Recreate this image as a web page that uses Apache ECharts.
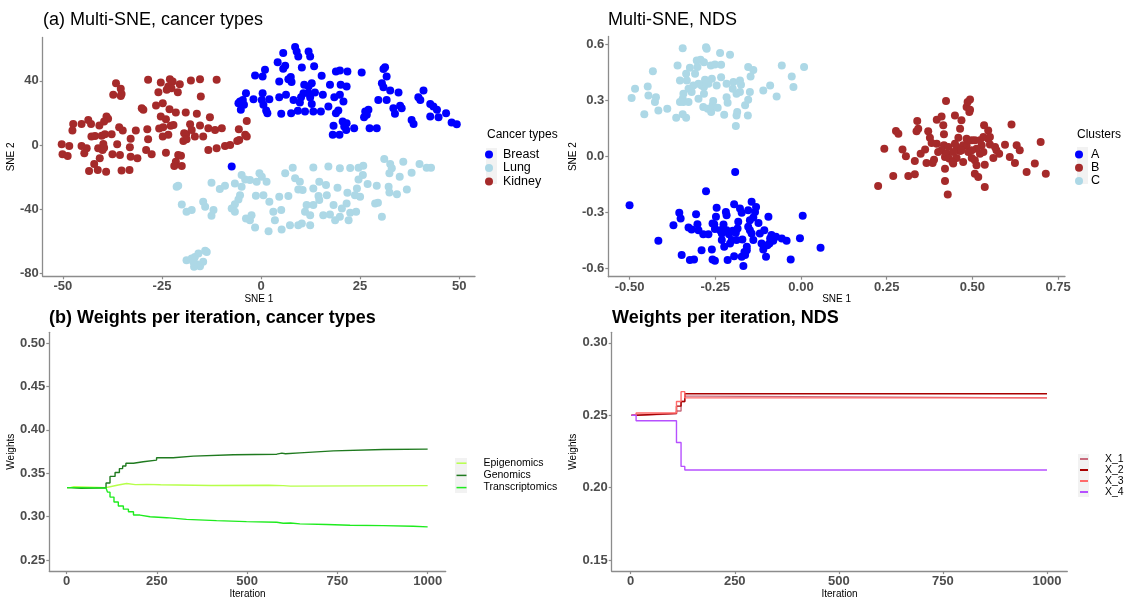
<!DOCTYPE html>
<html><head><meta charset="utf-8">
<script src="https://cdn.jsdelivr.net/npm/echarts@6/dist/echarts.min.js"></script>
<style>html,body{margin:0;padding:0;background:#fff}#c{width:1124px;height:600px}</style>
</head><body><div id="c"></div>
<script>
// ---------- Panel (a): Multi-SNE, cancer types ----------
const cancerTypes = ['Breast', 'Lung', 'Kidney'];
const breastPts = [[8.6,61.0],[9.0,58.3],[9.4,55.2],[12.0,58.3],[12.4,55.2],[5.6,57.3],[4.2,51.5],[6.1,49.4],[5.6,47.5],[10.3,48.3],[13.4,49.0],[-1.5,43.3],[0.4,42.7],[1.0,46.9],[4.6,39.6],[6.9,41.0],[7.7,39.2],[7.5,42.3],[10.9,37.5],[12.0,36.5],[12.8,38.5],[13.6,32.7],[15.3,43.1],[17.4,37.5],[18.9,45.8],[19.9,46.5],[20.1,37.5],[21.6,36.5],[21.8,45.8],[25.4,45.2],[30.9,47.3],[31.3,48.5],[31.7,42.7],[30.5,38.5],[30.9,36.0],[32.6,34.0],[34.7,32.7],[39.7,29.8],[40.2,28.1],[41.0,34.0],[42.7,25.6],[43.5,24.0],[44.4,21.9],[44.8,17.3],[46.7,19.8],[48.1,14.0],[49.4,12.9],[38.0,15.6],[38.5,13.1],[42.7,17.7],[33.4,22.9],[33.8,19.4],[35.5,22.9],[35.1,24.4],[29.6,28.1],[31.7,28.1],[26.3,20.8],[26.7,18.8],[27.1,21.9],[26.0,17.3],[27.4,10.4],[29.2,10.4],[23.5,10.4],[21.6,13.5],[21.5,9.4],[21.0,11.5],[20.6,14.6],[18.3,11.9],[18.1,6.3],[19.8,6.3],[18.9,19.8],[19.5,21.5],[18.5,29.8],[17.0,24.0],[15.6,31.3],[12.8,25.6],[12.4,29.6],[9.8,26.5],[10.1,29.8],[11.1,20.8],[9.3,21.3],[7.6,19.8],[5.1,19.4],[6.3,31.3],[4.6,29.8],[2.1,28.5],[0.4,32.3],[0.2,28.1],[0.6,25.0],[1.3,21.5],[1.6,19.8],[-1.9,28.5],[-3.8,32.3],[-5.3,27.1],[-4.6,28.1],[-5.7,26.0],[-5.1,21.9],[-4.3,25.0],[8.2,28.1],[12.0,32.3],[10.7,32.3],[13.2,20.8],[15.1,20.8],[19.9,31.3],[20.8,27.1],[-7.4,-13.5]];
const lungPts = [[-21.3,-26.0],[-20.9,-25.4],[-20.0,-37.1],[-18.8,-41.7],[-17.5,-40.6],[-14.6,-35.4],[-14.1,-38.5],[-12.5,-23.5],[-12.0,-40.6],[-12.5,-44.2],[-10.4,-27.5],[-9.1,-25.4],[-18.8,-71.9],[-17.5,-70.8],[-16.7,-69.8],[-15.8,-67.7],[-14.1,-66.0],[-14.6,-72.9],[-16.2,-74.4],[-15.4,-75.6],[-16.9,-76.0],[-17.1,-72.9],[-13.7,-66.7],[31.1,-8.8],[32.6,-11.9],[33.0,-14.6],[32.4,-17.7],[35.9,-10.4],[38.0,-17.3],[40.0,-11.9],[41.8,-14.2],[42.9,-14.2],[35.0,-19.8],[36.8,-27.7],[34.3,-30.8],[32.2,-26.0],[32.4,-29.6],[29.2,-25.4],[26.9,-24.4],[25.7,-18.8],[24.6,-21.5],[24.2,-27.1],[24.6,-14.2],[22.5,-14.4],[19.9,-14.6],[17.0,-13.5],[13.2,-14.0],[8.0,-14.2],[6.1,-17.7],[-0.4,-17.7],[0.2,-19.8],[1.4,-22.9],[-1.1,-22.9],[-2.8,-21.9],[-4.9,-18.8],[-6.6,-24.0],[-4.0,-21.5],[-4.9,-26.0],[-5.3,-31.3],[-5.7,-34.0],[-6.6,-36.9],[-7.4,-39.6],[-6.6,-41.7],[-1.3,-31.7],[0.6,-31.3],[2.1,-35.4],[4.6,-32.3],[6.9,-31.9],[8.6,-20.8],[9.8,-22.9],[9.4,-27.7],[10.5,-28.1],[13.2,-27.1],[14.7,-22.9],[16.4,-25.0],[16.6,-31.3],[14.7,-34.4],[14.5,-31.9],[13.2,-37.5],[11.5,-37.5],[11.1,-41.7],[12.4,-43.8],[15.7,-43.8],[17.4,-43.3],[18.3,-37.5],[20.4,-39.6],[21.6,-36.5],[21.8,-29.8],[19.3,-26.7],[23.7,-31.3],[22.5,-42.3],[24.0,-41.7],[25.0,-32.3],[28.8,-36.5],[29.5,-36.0],[30.5,-44.8],[19.9,-44.8],[18.7,-46.9],[22.1,-46.9],[12.4,-50.0],[10.3,-49.0],[9.4,-50.0],[7.3,-50.0],[5.2,-52.7],[1.9,-53.8],[-1.5,-51.5],[-2.8,-46.9],[-3.8,-45.8],[-2.4,-43.8],[3.1,-41.7],[5.1,-40.6],[3.5,-46.9],[25.8,-12.9]];
const kidneyPts = [[-28.5,40.6],[-25.3,39.0],[-23.0,41.0],[-22.3,39.6],[-23.4,36.5],[-22.6,35.4],[-23.8,34.4],[-25.9,32.9],[-21.0,32.9],[-20.5,37.9],[-17.7,40.2],[-15.4,41.0],[-11.2,40.6],[-36.6,38.5],[-35.4,35.0],[-35.2,31.7],[-37.3,31.3],[-35.4,30.6],[-15.2,30.2],[-30.1,22.9],[-29.7,21.9],[-26.5,24.6],[-24.8,26.0],[-23.1,22.3],[-21.5,20.2],[-19.0,20.2],[-16.2,19.4],[-12.9,17.3],[-25.3,17.7],[-24.0,16.0],[-39.0,17.7],[-38.6,16.3],[-39.6,14.6],[-43.6,15.6],[-42.9,13.1],[-45.3,13.1],[-47.4,13.1],[-47.6,9.0],[-40.8,12.1],[-35.8,11.0],[-34.9,9.0],[-31.6,9.0],[-28.7,9.8],[-25.7,10.2],[-24.7,11.0],[-22.8,11.9],[-22.1,12.5],[-17.9,12.9],[-15.4,12.1],[-13.3,10.4],[-11.6,9.4],[-9.9,10.4],[-42.8,5.2],[-41.9,5.6],[-40.2,5.8],[-39.4,6.7],[-37.7,6.7],[-32.9,3.8],[-28.5,3.5],[-24.8,5.2],[-23.4,6.3],[-18.9,6.7],[-16.7,5.2],[-14.6,5.2],[-17.5,9.4],[-19.4,7.3],[-5.6,9.8],[-3.6,15.0],[-4.0,6.3],[-3.6,5.2],[-5.5,3.1],[-50.3,0.4],[-48.4,-0.6],[-50.1,-5.8],[-48.8,-6.9],[-45.3,-0.6],[-44.0,-2.1],[-44.6,-5.2],[-41.1,-2.1],[-39.8,0.6],[-40.0,-3.1],[-39.6,-1.7],[-36.3,0.4],[-33.1,-1.5],[-29.0,-3.1],[-27.6,-5.8],[-24.0,-4.8],[-37.5,-5.8],[-35.6,-6.3],[-32.9,-7.3],[-31.2,-8.3],[-19.6,2.5],[-18.8,3.5],[-13.3,-3.1],[-11.2,-2.1],[-9.1,-0.6],[-7.8,0.0],[-6.0,2.5],[-40.7,-8.3],[-42.1,-11.9],[-20.9,-6.3],[-20.2,-6.7],[-21.5,-10.4],[-21.9,-13.1],[-20.0,-13.1],[-43.4,-16.3],[-41.2,-15.6],[-39.1,-16.7],[-35.2,-16.0],[-33.2,-15.6]];
const tlXTicks = [-50, -25, 0, 25, 50];
const tlYTicks = [-80, -40, 0, 40];

// ---------- Panel: Multi-SNE, NDS ----------
const clusterNames = ['A', 'B', 'C'];
const clusterA = [[-0.500,-0.262],[-0.416,-0.453],[-0.372,-0.369],[-0.355,-0.303],[-0.351,-0.333],[-0.348,-0.529],[-0.324,-0.556],[-0.312,-0.553],[-0.306,-0.310],[-0.302,-0.364],[-0.328,-0.381],[-0.319,-0.392],[-0.299,-0.396],[-0.285,-0.417],[-0.290,-0.503],[-0.277,-0.187],[-0.270,-0.417],[-0.260,-0.499],[-0.258,-0.553],[-0.251,-0.560],[-0.253,-0.364],[-0.251,-0.390],[-0.246,-0.276],[-0.248,-0.324],[-0.258,-0.360],[-0.236,-0.396],[-0.231,-0.449],[-0.226,-0.365],[-0.224,-0.485],[-0.219,-0.298],[-0.217,-0.316],[-0.214,-0.556],[-0.210,-0.417],[-0.202,-0.449],[-0.199,-0.399],[-0.195,-0.257],[-0.192,-0.084],[-0.195,-0.535],[-0.190,-0.410],[-0.185,-0.387],[-0.178,-0.280],[-0.173,-0.303],[-0.171,-0.446],[-0.168,-0.588],[-0.165,-0.512],[-0.163,-0.529],[-0.158,-0.485],[-0.154,-0.378],[-0.149,-0.396],[-0.144,-0.244],[-0.139,-0.328],[-0.134,-0.298],[-0.131,-0.271],[-0.124,-0.357],[-0.115,-0.467],[-0.110,-0.499],[-0.107,-0.396],[-0.102,-0.538],[-0.098,-0.476],[-0.095,-0.324],[-0.092,-0.467],[-0.090,-0.440],[-0.086,-0.422],[-0.081,-0.453],[-0.073,-0.431],[-0.056,-0.440],[-0.042,-0.453],[-0.030,-0.553],[-0.003,-0.439],[0.005,-0.319],[0.057,-0.490],[-0.173,-0.538],[-0.158,-0.503],[-0.144,-0.414],[-0.139,-0.449],[-0.188,-0.449],[-0.207,-0.467],[-0.217,-0.396],[-0.231,-0.414],[-0.149,-0.342],[-0.120,-0.414],[-0.154,-0.289],[-0.183,-0.351]];
const clusterB = [[0.225,-0.159],[0.243,0.041],[0.269,-0.105],[0.277,0.135],[0.284,0.121],[0.296,0.037],[0.306,0.000],[0.313,-0.105],[0.332,-0.096],[0.332,-0.025],[0.337,0.134],[0.339,0.189],[0.342,0.148],[0.349,0.014],[0.362,0.037],[0.366,-0.036],[0.371,0.134],[0.376,0.100],[0.381,0.071],[0.384,-0.036],[0.388,-0.018],[0.396,0.196],[0.410,0.214],[0.415,0.166],[0.417,0.118],[0.417,0.059],[0.410,0.032],[0.420,-0.066],[0.420,-0.132],[0.420,-0.004],[0.423,0.296],[0.425,0.014],[0.430,0.050],[0.432,-0.012],[0.428,-0.205],[0.444,-0.039],[0.449,0.219],[0.454,0.050],[0.464,0.148],[0.468,0.193],[0.464,0.029],[0.449,0.068],[0.459,0.100],[0.483,0.264],[0.486,0.291],[0.491,0.237],[0.493,0.250],[0.493,0.305],[0.473,-0.030],[0.483,0.059],[0.488,0.023],[0.498,-0.009],[0.507,-0.021],[0.507,-0.093],[0.512,-0.048],[0.517,-0.111],[0.522,0.014],[0.527,0.059],[0.534,0.166],[0.536,-0.164],[0.536,-0.045],[0.546,0.139],[0.546,0.094],[0.551,0.064],[0.561,-0.009],[0.566,0.050],[0.570,0.032],[0.578,0.014],[0.595,0.062],[0.609,-0.004],[0.614,0.171],[0.624,-0.036],[0.629,0.059],[0.638,0.032],[0.658,-0.084],[0.682,-0.039],[0.699,0.077],[0.714,-0.093],[0.483,0.094],[0.498,0.086],[0.507,0.086],[0.512,0.041],[0.522,0.086],[0.532,0.103],[0.498,0.032],[0.473,0.059],[0.468,0.032],[0.454,-0.009],[0.442,-0.030],[0.444,0.023],[0.400,0.023],[0.396,0.068],[0.532,0.023],[0.551,0.103]];
const clusterC = [[-0.345,0.579],[-0.277,0.585],[-0.275,0.576],[-0.236,0.553],[-0.207,0.544],[-0.360,0.487],[-0.324,0.474],[-0.432,0.456],[-0.447,0.374],[-0.484,0.362],[-0.494,0.312],[-0.445,0.326],[-0.423,0.317],[-0.426,0.291],[-0.416,0.246],[-0.390,0.255],[-0.457,0.225],[-0.364,0.207],[-0.335,0.207],[-0.345,0.225],[-0.304,0.513],[-0.293,0.517],[-0.283,0.504],[-0.302,0.478],[-0.309,0.442],[-0.335,0.442],[-0.353,0.406],[-0.333,0.406],[-0.319,0.344],[-0.345,0.308],[-0.343,0.291],[-0.328,0.291],[-0.299,0.308],[-0.285,0.264],[-0.272,0.255],[-0.262,0.237],[-0.258,0.273],[-0.243,0.260],[-0.256,0.296],[-0.283,0.335],[-0.290,0.380],[-0.270,0.389],[-0.280,0.410],[-0.260,0.415],[-0.246,0.380],[-0.233,0.424],[-0.217,0.389],[-0.197,0.398],[-0.199,0.362],[-0.178,0.406],[-0.175,0.383],[-0.188,0.335],[-0.217,0.317],[-0.214,0.287],[-0.224,0.223],[-0.188,0.219],[-0.186,0.237],[-0.163,0.273],[-0.155,0.219],[-0.154,0.303],[-0.149,0.344],[-0.178,0.344],[-0.147,0.428],[-0.154,0.478],[-0.139,0.463],[-0.110,0.353],[-0.090,0.380],[-0.071,0.321],[-0.056,0.487],[-0.027,0.428],[-0.022,0.371],[0.009,0.478],[-0.190,0.162],[-0.263,0.487],[-0.251,0.492],[-0.233,0.490],[-0.283,0.371],[-0.299,0.389],[-0.314,0.380],[-0.328,0.362],[-0.343,0.335],[-0.353,0.291]];
const trXTicks = [-0.5, -0.25, 0, 0.25, 0.5, 0.75];
const trYTicks = [-0.6, -0.3, 0, 0.3, 0.6];

// ---------- Panel (b): weights per iteration, cancer types ----------
const omicsNames = ['Epigenomics', 'Genomics', 'Transcriptomics'];
const epigenomicsW = [[1,0.3335],[10,0.3345],[20,0.3335],[109,0.3345],[120,0.3365],[143,0.3383],[166,0.337],[190,0.3372],[222,0.3368],[260,0.336],[400,0.3362],[560,0.3358],[600,0.3352],[620,0.3358],[1000,0.3358]];
const genomicsW = [[1,0.3335],[11,0.3328],[40,0.3331],[80,0.3334],[109,0.3388],[120,0.3464],[134,0.3509],[146,0.3554],[155,0.3584],[164,0.3615],[185,0.3633],[212,0.3652],[249,0.3679],[295,0.3698],[351,0.3713],[462,0.372],[582,0.3732],[596,0.3725],[606,0.3735],[646,0.3758],[739,0.3773],[877,0.3778],[1000,0.378]];
const transcriptomicsW = [[1,0.3335],[10,0.333],[109,0.3335],[113,0.3283],[120,0.3226],[131,0.317],[143,0.3124],[157,0.3087],[171,0.3057],[185,0.3019],[203,0.30],[231,0.2989],[277,0.297],[332,0.2955],[415,0.2943],[498,0.2936],[582,0.2925],[600,0.2928],[620,0.2918],[646,0.291],[720,0.2902],[785,0.2897],[877,0.2891],[960,0.2883],[1000,0.2879]];
const iterTicks = [0, 250, 500, 750, 1000];
const blYTicks = [0.25, 0.30, 0.35, 0.40, 0.45, 0.50];

// ---------- Panel: weights per iteration, NDS ----------
const ndsNames = ['X_1', 'X_2', 'X_3', 'X_4'];
const x1W = [[2,0.25],[13,0.2511],[110,0.253],[121,0.2595],[130,0.2632],[160,0.262],[1000,0.262]];
const x2W = [[2,0.25],[13,0.2513],[110,0.2563],[121,0.2595],[130,0.2649],[1000,0.2649]];
const x3W = [[2,0.25],[13,0.2516],[110,0.2595],[121,0.2663],[130,0.262],[1000,0.262]];
const x4W = [[2,0.25],[13,0.2462],[110,0.2312],[121,0.2147],[130,0.2122],[1000,0.2122]];
const brYTicks = [0.15, 0.20, 0.25, 0.30];

// ---------- styling ----------
const FONT = 'Liberation Sans, Arial, sans-serif';
const AX = '#8c8c8c';
const TICKC = '#4D4D4D';

function axis(grid, min, max, ticks, fmt, name, gap) {
  return {
    type: 'value', gridIndex: grid, min: min, max: max,
    name: name, nameLocation: 'middle', nameGap: gap,
    nameTextStyle: {fontSize: 10, color: '#000', fontFamily: FONT},
    axisLine: {show: true, onZero: false, lineStyle: {color: AX, width: 1.3}},
    axisTick: {show: true, length: 3, customValues: ticks, lineStyle: {color: AX, width: 1.2}},
    axisLabel: {customValues: ticks, formatter: fmt, margin: 4, fontSize: 13, fontWeight: 'bold', color: TICKC, fontFamily: FONT},
    splitLine: {show: false}
  };
}
const f0 = v => String(Math.round(v));
const f1 = v => v.toFixed(1);
const f2 = v => v.toFixed(2);

function scat(name, pts, color, xi) {
  return {type: 'scatter', name: name, xAxisIndex: xi, yAxisIndex: xi, data: pts,
    symbolSize: 8, itemStyle: {color: color, opacity: 1}, emphasis: {disabled: true}};
}
function stepLine(name, pts, color, xi) {
  return {type: 'line', name: name, xAxisIndex: xi, yAxisIndex: xi, data: pts, step: 'end',
    showSymbol: false, symbol: 'none', lineStyle: {color: color, width: 1.4}, itemStyle: {color: color},
    emphasis: {disabled: true}};
}

const colBlue = '#0000FF', colLight = '#ADD8E6', colBrown = '#A52A2A';
const omicsColors = ['#B6FF4A', '#1F7A1F', '#1EEB1E'];
const ndsColors = ['#C86A7C', '#A80000', '#FF6A6A', '#B650FF'];

const chart = echarts.init(document.getElementById('c'), null, {renderer: 'canvas'});
chart.setOption({
  animation: false,
  backgroundColor: '#ffffff',
  textStyle: {fontFamily: FONT},
  title: [
    {text: '(a) Multi-SNE, cancer types', left: 43, top: 11, padding: 0, textStyle: {fontSize: 18, fontWeight: 'normal', color: '#000', fontFamily: FONT}},
    {text: 'Multi-SNE, NDS', left: 608, top: 11, padding: 0, textStyle: {fontSize: 18, fontWeight: 'normal', color: '#000', fontFamily: FONT}},
    {text: '(b) Weights per iteration, cancer types', left: 49, top: 309, padding: 0, textStyle: {fontSize: 18, fontWeight: 'bold', color: '#000', fontFamily: FONT}},
    {text: 'Weights per iteration, NDS', left: 612, top: 309, padding: 0, textStyle: {fontSize: 18, fontWeight: 'bold', color: '#000', fontFamily: FONT}},
    {text: 'Cancer types', left: 487, top: 129, padding: 0, textStyle: {fontSize: 12, fontWeight: 'normal', color: '#000', fontFamily: FONT}},
    {text: 'Clusters', left: 1077, top: 129, padding: 0, textStyle: {fontSize: 12, fontWeight: 'normal', color: '#000', fontFamily: FONT}}
  ],
  graphic: [
    {type: 'rect', left: 486, top: 148, shape: {width: 11, height: 36}, style: {fill: '#F2F2F2'}, z: -1, silent: true},
    {type: 'rect', left: 1077, top: 147, shape: {width: 11, height: 37}, style: {fill: '#F2F2F2'}, z: -1, silent: true},
    {type: 'rect', left: 455, top: 458, shape: {width: 12, height: 35}, style: {fill: '#F2F2F2'}, z: -1, silent: true},
    {type: 'rect', left: 1078, top: 454, shape: {width: 11, height: 43}, style: {fill: '#F2F2F2'}, z: -1, silent: true}
  ],
  legend: [
    {data: cancerTypes.map(n => ({name: n, icon: 'circle'})), orient: 'vertical', left: 485, top: 148,
     itemWidth: 14, itemHeight: 8, itemGap: 0.5, padding: 0, selectedMode: false,
     textStyle: {fontSize: 12.5, lineHeight: 12, color: '#000', fontFamily: FONT, padding: [0, 0, 0, 2]}},
    {data: clusterNames.map(n => ({name: n, icon: 'circle'})), orient: 'vertical', left: 1075, top: 148,
     itemWidth: 14, itemHeight: 8, itemGap: 0.2, padding: 0, selectedMode: false,
     textStyle: {fontSize: 12.5, lineHeight: 12, color: '#000', fontFamily: FONT}},
    {data: omicsNames.map(n => ({name: n, icon: 'rect'})), orient: 'vertical', left: 456.5, top: 457.2,
     itemWidth: 10, itemHeight: 1.5, itemGap: 0.2, padding: 0, selectedMode: false,
     textStyle: {fontSize: 10.5, lineHeight: 12, color: '#000', fontFamily: FONT, padding: [0, 0, 0, 12]}},
    {data: ndsNames.map(n => ({name: n, icon: 'rect'})), orient: 'vertical', left: 1080, top: 453.5,
     itemWidth: 8, itemHeight: 2, itemGap: 0, padding: 0, selectedMode: false,
     textStyle: {fontSize: 10.5, lineHeight: 11, color: '#000', fontFamily: FONT, padding: [0, 0, 0, 12]}}
  ],
  grid: [
    {left: 42.7, top: 37.5, width: 432.3, height: 238.8},
    {left: 608.3, top: 36.5, width: 456.7, height: 240.2},
    {left: 49.3, top: 332.3, width: 396.4, height: 243},
    {left: 611.7, top: 332.3, width: 455.6, height: 243}
  ],
  xAxis: [
    axis(0, -55.1, 54.0, tlXTicks, f0, 'SNE 1', 15),
    axis(1, -0.562, 0.770, trXTicks, f2, 'SNE 1', 15),
    axis(2, -48.2, 1050, iterTicks, f0, 'Iteration', 15),
    axis(3, -45.6, 1048.8, iterTicks, f0, 'Iteration', 15)
  ],
  yAxis: [
    axis(0, -81.9, 67, tlYTicks, f0, 'SNE 2', 18),
    axis(1, -0.645, 0.642, trYTicks, f1, 'SNE 2', 21),
    axis(2, 0.2374, 0.5123, blYTicks, f2, 'Weights', 25),
    axis(3, 0.1424, 0.3073, brYTicks, f2, 'Weights', 25)
  ],
  series: [
    scat('Kidney', kidneyPts, colBrown, 0),
    scat('Lung', lungPts, colLight, 0),
    scat('Breast', breastPts, colBlue, 0),
    scat('A', clusterA, colBlue, 1),
    scat('B', clusterB, colBrown, 1),
    scat('C', clusterC, colLight, 1),
    stepLine('Epigenomics', epigenomicsW, omicsColors[0], 2),
    stepLine('Genomics', genomicsW, omicsColors[1], 2),
    stepLine('Transcriptomics', transcriptomicsW, omicsColors[2], 2),
    stepLine('X_1', x1W, ndsColors[0], 3),
    stepLine('X_2', x2W, ndsColors[1], 3),
    stepLine('X_3', x3W, ndsColors[2], 3),
    stepLine('X_4', x4W, ndsColors[3], 3)
  ]
});
</script>
</body></html>
